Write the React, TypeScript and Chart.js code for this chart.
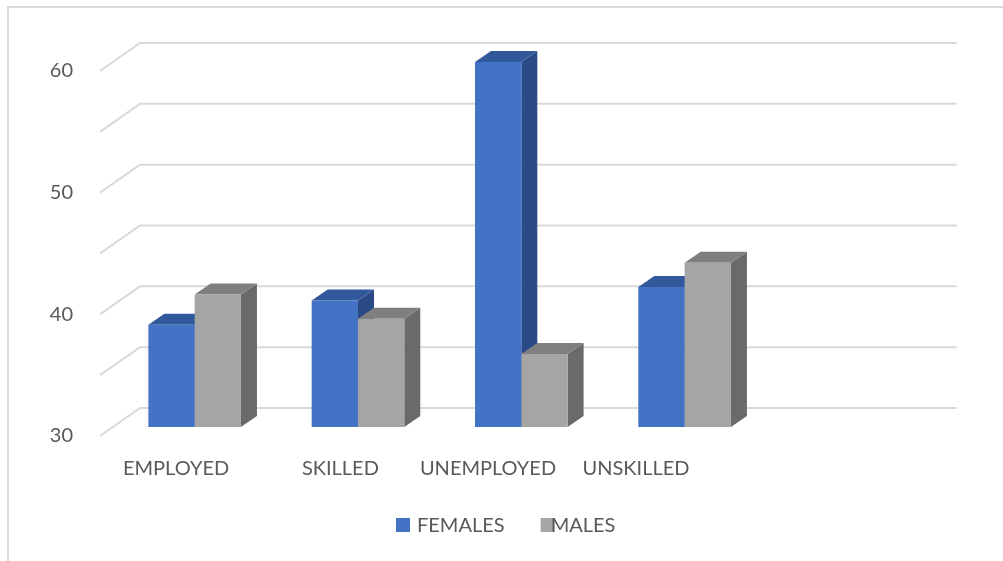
import React, { useEffect, useRef } from "react";
import { Chart, registerables } from "chart.js";

Chart.register(...registerables);

const categories = ["EMPLOYED", "SKILLED", "UNEMPLOYED", "UNSKILLED", ""];
const seriesNames = ["FEMALES", "MALES"];
const females = [38.4, 40.4, 60, 41.5, null];
const males = [40.9, 38.9, 36, 43.5, null];
const yMin = 30;
const yMax = 60;
const yStep = 5;
const yLabelEvery = 10;

const FRONT_COLORS = ["#4472C4", "#A5A5A5"];
const TOP_COLORS = ["#32589C", "#7F7F7F"];
const SIDE_COLORS = ["#294A87", "#6A6A6A"];
const TEXT = "#595959";
const GRID = "#D9D9D9";
const FONT = "20px Lato, 'Open Sans', sans-serif";

// oblique projection offsets (relative to the bar plane)
const FRONT_DX = -13;
const FRONT_DY = 9;
const BACK_DX = 27;
const BACK_DY = -19;
const BAR_DX = 16;
const BAR_DY = -11;
const LABEL_NUDGE = [-5.6, -4.6, -20.3, -35.6, 0];

const depthPlugin = {
  id: "depth3d",
  beforeDatasetsDraw(chart: any) {
    const { ctx, chartArea } = chart;
    const y = chart.scales.y;
    ctx.save();
    ctx.strokeStyle = GRID;
    ctx.lineWidth = 2;
    y.ticks.forEach((t: any) => {
      const py = y.getPixelForValue(t.value);
      ctx.beginPath();
      ctx.moveTo(chartArea.left + FRONT_DX, py + FRONT_DY);
      ctx.lineTo(chartArea.left + BACK_DX, py + BACK_DY);
      ctx.lineTo(chartArea.right + BACK_DX, py + BACK_DY);
      ctx.stroke();
    });
    chart.data.datasets.forEach((ds: any, di: number) => {
      const meta = chart.getDatasetMeta(di);
      meta.data.forEach((bar: any, i: number) => {
        if (ds.data[i] == null) return;
        const p = bar.getProps(["x", "y", "base", "width"], true);
        const l = p.x - p.width / 2;
        const r = p.x + p.width / 2;
        const top = p.y;
        const base = Math.min(p.base, y.getPixelForValue(yMin));
        ctx.fillStyle = SIDE_COLORS[di];
        ctx.beginPath();
        ctx.moveTo(r, top);
        ctx.lineTo(r + BAR_DX, top + BAR_DY);
        ctx.lineTo(r + BAR_DX, base + BAR_DY);
        ctx.lineTo(r, base);
        ctx.closePath();
        ctx.fill();
        ctx.fillStyle = TOP_COLORS[di];
        ctx.beginPath();
        ctx.moveTo(l, top);
        ctx.lineTo(r, top);
        ctx.lineTo(r + BAR_DX, top + BAR_DY);
        ctx.lineTo(l + BAR_DX, top + BAR_DY);
        ctx.closePath();
        ctx.fill();
      });
    });
    ctx.restore();
  },
  afterDraw(chart: any) {
    const { ctx } = chart;
    const x = chart.scales.x;
    const y = chart.scales.y;
    ctx.save();
    ctx.font = FONT;
    ctx.fillStyle = TEXT;
    ctx.textAlign = "center";
    ctx.textBaseline = "alphabetic";
    const labelY = y.bottom + 48;
    chart.data.labels.forEach((lab: string, i: number) => {
      if (!lab) return;
      ctx.fillText(lab, x.getPixelForValue(i) + FRONT_DX + LABEL_NUDGE[i], labelY);
    });
    // legend
    const box = 14;
    const legTop = y.bottom + 91;
    let lx = chart.width / 2 - 105.5;
    const textGap = [21, 10];
    ctx.textAlign = "left";
    chart.data.datasets.forEach((ds: any, di: number) => {
      ctx.fillStyle = ds.backgroundColor;
      ctx.fillRect(lx, legTop, box, box);
      const tx = lx + textGap[di];
      ctx.fillStyle = TEXT;
      ctx.fillText(ds.label, tx, legTop + box);
      lx = tx + ctx.measureText(ds.label).width + 36;
    });
    ctx.restore();
  },
};

export default function App() {
  const ref = useRef<HTMLCanvasElement | null>(null);
  useEffect(() => {
    if (!ref.current) return;
    const chart = new Chart(ref.current, {
      type: "bar",
      data: {
        labels: categories,
        datasets: [
          { label: seriesNames[0], data: females, backgroundColor: FRONT_COLORS[0], borderWidth: 0 },
          { label: seriesNames[1], data: males, backgroundColor: FRONT_COLORS[1], borderWidth: 0 },
        ],
      },
      options: {
        responsive: false,
        animation: false,
        layout: { padding: { left: 0, top: 62, right: 73.4, bottom: 134 } },
        datasets: { bar: { categoryPercentage: 0.567, barPercentage: 1 } },
        plugins: { legend: { display: false }, tooltip: { enabled: false } },
        scales: {
          x: { display: false, grid: { display: false } },
          y: {
            min: yMin,
            max: yMax,
            grid: { display: false, drawTicks: false },
            border: { display: false },
            afterFit: (s: any) => {
              s.width = 113;
            },
            ticks: {
              stepSize: yStep,
              padding: 40,
              labelOffset: 9,
              color: TEXT,
              font: { family: "Lato, 'Open Sans', sans-serif", size: 20 },
              callback: (v: any) => (Number(v) % yLabelEvery === 0 ? String(v) : ""),
            },
          },
        },
      },
      plugins: [depthPlugin],
    });
    return () => chart.destroy();
  }, []);
  return (
    <div style={{ position: "fixed", left: 0, top: 0, width: 1003, height: 561, background: "#fff" }}>
      <div
        style={{
          position: "absolute",
          left: 7,
          top: 6,
          width: 994,
          height: 553,
          borderTop: `2px solid ${GRID}`,
          borderLeft: `2px solid ${GRID}`,
        }}
      />
      <canvas ref={ref} width={1003} height={561} style={{ position: "absolute", left: 0, top: 0 }} />
    </div>
  );
}
